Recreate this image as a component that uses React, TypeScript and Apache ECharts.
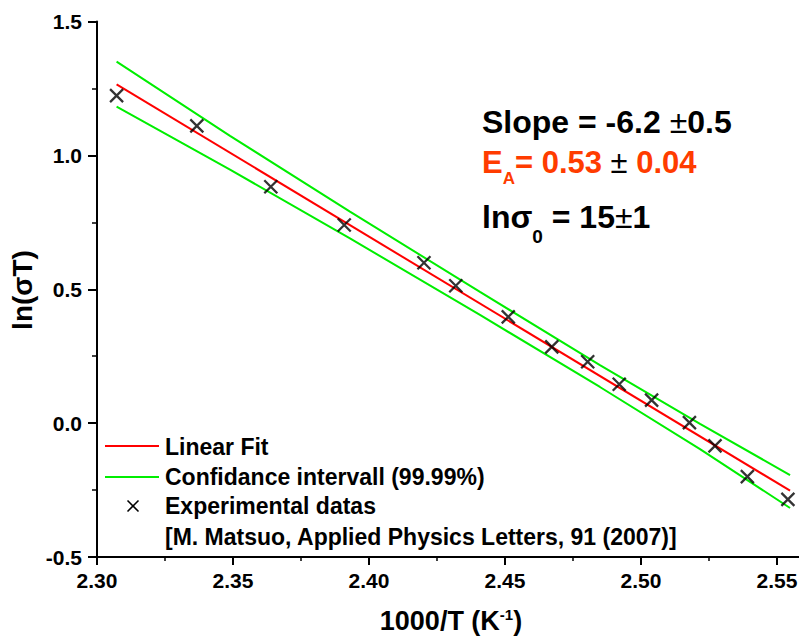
import { useEffect, useRef } from 'react';
import * as echarts from 'echarts';

const FONT = '"Liberation Sans", Arial, sans-serif';

// Experimental data (1000/T, ln(sigma T))
const expX = [2.3072, 2.3367, 2.3639, 2.3909, 2.4202, 2.4319, 2.4512, 2.4672, 2.4804, 2.4920, 2.5039, 2.5178, 2.5272, 2.5391, 2.5540];
const expY = [1.223, 1.110, 0.883, 0.740, 0.599, 0.513, 0.397, 0.285, 0.229, 0.145, 0.086, 0.002, -0.085, -0.200, -0.285];

// Linear fit end points
const fitX = [2.3072, 2.5548];
const fitY = [1.2655, -0.2524];

// Confidence band read at several abscissae
const bandX = [2.3072, 2.3489, 2.3930, 2.4408, 2.4849, 2.5217, 2.5548];
const bandUpper = [1.350, 1.073, 0.790, 0.490, 0.217, -0.003, -0.194];
const bandLower = [1.182, 0.947, 0.690, 0.404, 0.135, -0.097, -0.317];

const legendLabels = [
  'Linear Fit',
  'Confidance intervall (99.99%)',
  'Experimental datas',
  '[M. Matsuo, Applied Physics Letters, 91 (2007)]',
];

const xTitle = '1000/T (K{sup|-1})';
const yTitle = 'ln(σT)';
const slopeText = 'Slope = -6.2 {pm|±}0.5';
const eaText = 'E{sub|A}= 0.53 {pm|±} 0.04';
const lnText = 'lnσ{sub|0} = 15{pm|±}1';

const X_MIN = 2.3;
const X_MAX = 2.6;
const X_STEP = 0.05;
const Y_MIN = -0.5;
const Y_MAX = 1.5;
const Y_STEP = 0.5;

const zip = (a: number[], b: number[]) => a.map((v, i) => [v, b[i]]);

export default function App() {
  const ref = useRef<HTMLDivElement>(null);
  useEffect(() => {
    if (!ref.current) return;
    const chart = echarts.init(ref.current, undefined, { renderer: 'svg' });
    const axisFont = { fontFamily: FONT, fontWeight: 'bold' as const, fontSize: 21, color: '#000' };
    const txt = (size: number, fill: string) => ({ fontFamily: FONT, fontWeight: 'bold', fontSize: size, fill });
    const option: any = {
      animation: false,
      backgroundColor: '#ffffff',
      grid: { left: 97, right: -114, top: 21.5, bottom: 81, containLabel: false, outerBoundsMode: 'none' },
      xAxis: {
        type: 'value',
        min: X_MIN,
        max: X_MAX,
        interval: X_STEP,
        axisLine: { show: true, onZero: false, lineStyle: { color: '#000', width: 2 } },
        axisTick: { show: true, inside: false, length: 8, lineStyle: { color: '#000', width: 2 } },
        minorTick: { show: true, splitNumber: 2, length: 4, lineStyle: { color: '#000', width: 1.5 } },
        splitLine: { show: false },
        axisLabel: {
          ...axisFont,
          margin: 13,
          formatter: (v: number) => (v > 2.56 ? '' : v.toFixed(2)),
        },
      },
      yAxis: {
        type: 'value',
        min: Y_MIN,
        max: Y_MAX,
        interval: Y_STEP,
        axisLine: { show: true, onZero: false, lineStyle: { color: '#000', width: 2 } },
        axisTick: { show: true, inside: false, length: 9, lineStyle: { color: '#000', width: 2 } },
        minorTick: { show: true, splitNumber: 2, length: 5, lineStyle: { color: '#000', width: 1.5 } },
        splitLine: { show: false },
        axisLabel: { ...axisFont, margin: 15, formatter: (v: number) => v.toFixed(1) },
      },
      series: [
        {
          type: 'line',
          data: zip(bandX, bandUpper),
          symbol: 'none',
          lineStyle: { color: '#00ee00', width: 2 },
          z: 2,
        },
        {
          type: 'line',
          data: zip(bandX, bandLower),
          symbol: 'none',
          lineStyle: { color: '#00ee00', width: 2 },
          z: 2,
        },
        {
          type: 'line',
          data: zip(fitX, fitY),
          symbol: 'none',
          lineStyle: { color: '#ff0000', width: 2 },
          z: 3,
        },
        {
          type: 'scatter',
          data: zip(expX, expY),
          symbol: 'path://M0 0L10 10M10 0L0 10',
          symbolSize: 13,
          itemStyle: { color: 'rgba(0,0,0,0)', borderColor: '#000', borderWidth: 2.3 },
          z: 5,
        },
      ],
      graphic: [
        // axis titles
        {
          type: 'text',
          x: 451,
          y: 621,
          style: {
            text: xTitle,
            ...txt(27, '#000'),
            align: 'center',
            verticalAlign: 'middle',
            rich: { sup: { ...txt(15, '#000'), padding: [0, 0, 14, 0] } },
          },
        },
        {
          type: 'text',
          x: 22,
          y: 290,
          rotation: Math.PI / 2,
          style: { text: yTitle, ...txt(28, '#000'), align: 'center', verticalAlign: 'middle' },
        },
        // annotations
        {
          type: 'text',
          x: 482,
          y: 122,
          style: {
            text: slopeText,
            ...txt(32, '#000'),
            align: 'left',
            verticalAlign: 'middle',
            rich: { pm: { ...txt(32, '#000'), fontWeight: 'normal' } },
          },
        },
        {
          type: 'text',
          x: 482,
          y: 162,
          style: {
            text: eaText,
            ...txt(31, '#ff3c00'),
            align: 'left',
            verticalAlign: 'middle',
            rich: {
              sub: { ...txt(17, '#ff3c00'), padding: [33, 0, 0, 0] },
              pm: { ...txt(31, '#000'), fontWeight: 'normal' },
            },
          },
        },
        {
          type: 'text',
          x: 482,
          y: 217,
          style: {
            text: lnText,
            ...txt(32, '#000'),
            align: 'left',
            verticalAlign: 'middle',
            rich: {
              sub: { ...txt(19, '#000'), padding: [38, 0, 0, 0] },
              pm: { ...txt(32, '#000'), fontWeight: 'normal' },
            },
          },
        },
        // legend
        { type: 'line', shape: { x1: 105, y1: 446, x2: 159, y2: 446 }, style: { stroke: '#ff0000', lineWidth: 2 } },
        { type: 'line', shape: { x1: 105, y1: 477, x2: 159, y2: 477 }, style: { stroke: '#00ee00', lineWidth: 2 } },
        { type: 'line', shape: { x1: 127.5, y1: 500.5, x2: 138.5, y2: 511.5 }, style: { stroke: '#000', lineWidth: 1.6 } },
        { type: 'line', shape: { x1: 138.5, y1: 500.5, x2: 127.5, y2: 511.5 }, style: { stroke: '#000', lineWidth: 1.6 } },
        ...legendLabels.map((label, i) => ({
          type: 'text',
          x: 165,
          y: [447, 477, 506, 537][i],
          style: { text: label, ...txt(23, '#000'), align: 'left', verticalAlign: 'middle' },
        })),
      ],
    };
    chart.setOption(option);
    return () => chart.dispose();
  }, []);
  return (
    <div
      ref={ref}
      style={{ position: 'fixed', left: 0, top: 0, width: 799, height: 638, background: '#fff' }}
    />
  );
}
